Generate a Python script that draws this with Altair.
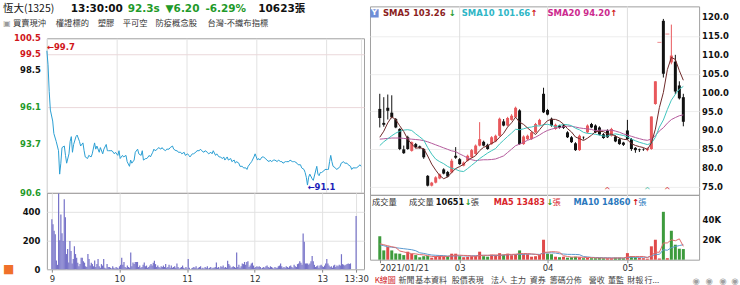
import altair as alt
import pandas as pd

# ---------------- header ----------------
stock_name = "恆大(1325)"
quote_time = "13:30:00"
quote_price = "92.3s"
quote_change = "▼6.20"
quote_pct = "-6.29%"
quote_volume = "10623張"
tags = ["買賣現沖", "權證標的", "塑膠", "平可空", "防疫概念股", "台灣-不織布指標"]

# ---------------- intraday ----------------
ref_price = 98.5
price_ticks = [90.6, 93.7, 96.1, 98.5, 99.5, 100.5]
hour_ticks = [0, 60, 120, 180, 240, 270]
hour_labels = ["9", "10", "11", "12", "13", "13:30"]
intra_min = [0, 1, 2, 3, 5, 6, 8, 9, 10, 11, 12, 13, 15, 16, 17, 19, 20, 21, 22, 23, 25, 26, 28, 29, 31, 32, 33, 35,
             36, 38, 39, 41, 42, 43, 45, 46, 48, 49, 51, 52, 53, 55, 56, 58, 59, 61, 62, 63, 65, 66, 68, 69, 71, 72,
             73, 75, 76, 78, 79, 81, 82, 83, 85, 86, 88, 89, 91, 92, 93, 95, 96, 98, 99, 100, 102, 103, 105, 106,
             108, 109, 111, 112, 113, 115, 116, 118, 119, 121, 122, 123, 125, 126, 128, 129, 131, 132, 133, 135,
             136, 138, 139, 141, 142, 143, 145, 146, 148, 149, 151, 152, 153, 155, 156, 158, 159, 161, 162, 163,
             165, 166, 168, 169, 171, 172, 173, 175, 176, 178, 179, 180, 181, 182, 183, 185, 186, 188, 189, 191,
             192, 193, 195, 196, 198, 199, 201, 202, 203, 205, 206, 208, 209, 211, 212, 213, 215, 216, 218, 219,
             221, 222, 223, 224, 225, 226, 228, 229, 231, 232, 233, 234, 235, 236, 238, 239, 241, 242, 243, 244,
             245, 246, 248, 249, 251, 252, 253, 255, 256, 258, 259, 261, 262, 263, 265, 266, 268, 269, 270]
intra_price = [99.7, 98.8, 97.1, 95.9, 95.2, 94.4, 93.9, 93.6, 93.3, 91.8, 92.5, 93.5, 93.6, 93.0, 92.5, 93.1, 93.9,
               94.2, 93.2, 93.7, 94.2, 94.3, 93.9, 93.6, 93.8, 93.3, 92.9, 92.8, 93.0, 92.9, 93.1, 93.8, 93.4, 93.6,
               93.2, 93.5, 93.1, 93.4, 93.7, 93.3, 93.3, 93.3, 93.3, 93.1, 93.2, 93.0, 93.3, 92.8, 93.0, 92.9, 93.0,
               92.6, 92.3, 92.7, 92.5, 92.7, 93.2, 93.4, 93.1, 93.0, 93.3, 92.7, 92.8, 92.8, 93.0, 92.9, 93.2, 93.4,
               93.3, 93.4, 93.5, 93.4, 93.5, 93.4, 93.3, 93.4, 93.4, 93.5, 93.6, 93.4, 93.3, 93.3, 93.2, 93.2, 93.1,
               93.2, 93.0, 93.1, 93.0, 92.9, 93.1, 93.1, 93.2, 93.3, 93.3, 93.4, 93.3, 93.2, 93.3, 93.2, 93.1, 93.2,
               93.1, 93.3, 93.0, 93.1, 92.9, 92.9, 92.8, 92.9, 92.7, 92.9, 92.7, 92.8, 92.6, 92.7, 92.5, 92.6, 92.5,
               92.3, 92.3, 92.2, 92.2, 92.1, 92.3, 92.5, 92.6, 92.9, 93.1, 92.9, 92.7, 92.8, 92.7, 92.9, 92.9, 92.8,
               92.7, 92.6, 92.7, 92.6, 92.7, 92.7, 92.6, 92.7, 92.6, 92.6, 92.5, 92.6, 92.6, 92.6, 92.7, 92.6, 92.6,
               92.6, 92.5, 92.4, 92.4, 92.2, 92.1, 91.9, 91.6, 91.1, 91.6, 91.8, 91.5, 91.4, 92.0, 92.3, 91.8, 91.7,
               91.9, 91.9, 92.0, 92.1, 92.1, 92.1, 92.6, 93.0, 92.6, 92.3, 92.2, 92.1, 92.2, 92.3, 92.5, 92.6, 92.5,
               92.5, 92.4, 92.3, 92.1, 92.2, 92.2, 92.2, 92.3, 92.4, 92.3]
ivol = [347, 312, 266, 243, 60, 30, 525, 200, 380, 250,
        195, 485, 360, 105, 140, 46, 195, 127, 40, 70,
        160, 105, 80, 45, 20, 35, 80, 80, 55, 45,
        20, 15, 105, 70, 25, 45, 35, 20, 60, 15,
        35, 70, 20, 10, 35, 25, 70, 10, 5, 35,
        15, 15, 10, 5, 20, 10, 5, 15, 10, 5,
        20, 30, 80, 30, 50, 15, 10, 25, 15, 10,
        115, 20, 46, 35, 50, 50, 50, 15, 25, 10,
        15, 30, 46, 20, 25, 10, 15, 25, 35, 25,
        45, 58, 35, 15, 25, 15, 10, 20, 15, 25,
        15, 35, 10, 15, 30, 10, 25, 10, 15, 20,
        10, 40, 15, 5, 10, 15, 25, 10, 5, 15,
        5, 70, 10, 0, 5, 10, 15, 10, 20, 5,
        10, 15, 20, 5, 10, 5, 15, 10, 20, 5,
        10, 15, 5, 10, 10, 15, 46, 10, 15, 5,
        20, 15, 25, 10, 15, 10, 58, 35, 25, 10,
        15, 20, 15, 10, 115, 15, 30, 10, 20, 40,
        35, 50, 30, 50, 55, 15, 25, 40, 45, 25,
        10, 15, 20, 15, 20, 15, 5, 10, 15, 10,
        20, 25, 15, 10, 20, 15, 10, 5, 15, 10,
        10, 20, 25, 40, 20, 10, 15, 10, 20, 15,
        10, 20, 25, 15, 10, 30, 20, 15, 35, 40,
        55, 45, 30, 247, 190, 40, 40, 40, 30, 40,
        55, 92, 55, 30, 15, 20, 25, 10, 25, 30,
        20, 15, 25, 40, 70, 40, 25, 15, 20, 10,
        25, 30, 15, 25, 20, 30, 25, 104, 35, 30,
        25, 30, 35, 40, 35, 40, 370]
ivol_min = list(range(266)) + [270]

# ---------------- daily K line ----------------
dates = ["01/21", "01/22", "01/25", "01/26", "01/27", "01/28", "01/29", "02/01", "02/02", "02/03", "02/04",
         "02/05", "02/17", "02/18", "02/19", "02/22", "02/23", "02/24", "02/25", "02/26", "03/02", "03/03",
         "03/04", "03/05", "03/08", "03/09", "03/10", "03/11", "03/12", "03/15", "03/16", "03/17", "03/18",
         "03/19", "03/22", "03/23", "03/24", "03/25", "03/26", "03/29", "03/30", "03/31", "04/01", "04/06",
         "04/07", "04/08", "04/09", "04/12", "04/13", "04/14", "04/15", "04/16", "04/19", "04/20", "04/21",
         "04/22", "04/23", "04/26", "04/27", "04/28", "04/29", "04/30", "05/03", "05/04", "05/05", "05/06",
         "05/07", "05/10", "05/11", "05/12", "05/13", "05/14", "05/17", "05/18", "05/19", "05/20", "05/21"]
opens = [95.7, 92.0, 96.0, 94.7, 93.0, 90.4, 85.0, 88.2, 84.6, 86.4, 85.8, 85.1, 78.0, 75.4, 76.2, 77.3, 79.7,
         79.0, 78.9, 83.3, 82.4, 80.7, 82.0, 82.9, 83.8, 86.0, 87.0, 86.2, 86.4, 87.1, 88.6, 92.4, 91.3, 92.8,
         93.5, 95.3, 86.4, 87.7, 87.7, 89.5, 91.5, 99.7, 95.4, 93.1, 90.4, 91.3, 91.3, 89.5, 88.2, 86.6, 84.8,
         88.3, 89.5, 91.7, 91.3, 90.8, 89.0, 90.0, 88.6, 88.4, 87.7, 86.8, 90.0, 87.7, 85.4, 85.0, 85.1, 84.8,
         85.1, 97.0, 113.3, 119.0, 115.5, 108.0, 108.2, 101.9, 98.8]
highs = [99.7, 98.8, 99.5, 99.3, 93.3, 90.6, 86.0, 88.6, 87.1, 86.7, 86.0, 85.3, 78.2, 76.4, 77.9, 78.6, 80.0,
         79.3, 82.5, 85.6, 82.7, 81.8, 83.6, 85.1, 86.3, 92.2, 87.3, 86.5, 88.5, 88.9, 93.4, 93.0, 93.6, 94.3,
         96.3, 95.6, 88.7, 88.9, 89.8, 92.0, 93.1, 101.3, 95.7, 93.4, 91.8, 91.5, 91.6, 89.8, 88.5, 86.9, 88.9,
         88.4, 91.6, 92.0, 91.6, 91.1, 89.3, 90.3, 90.7, 88.7, 88.0, 87.0, 92.8, 88.0, 85.6, 85.2, 85.3, 85.5,
         93.7, 103.0, 113.3, 119.5, 115.5, 118.0, 110.0, 103.0, 99.7]
lows = [90.8, 91.0, 92.9, 93.2, 90.6, 84.8, 83.8, 84.9, 84.4, 85.3, 85.2, 82.5, 75.2, 75.2, 76.0, 77.1, 78.4,
        77.6, 78.7, 82.5, 80.9, 80.5, 81.8, 82.7, 83.6, 85.8, 85.8, 84.9, 86.2, 86.9, 88.4, 91.1, 91.1, 92.6,
        93.3, 86.2, 86.2, 87.5, 87.5, 89.3, 91.3, 94.6, 94.0, 91.0, 90.2, 90.5, 90.4, 88.0, 86.7, 84.6, 84.6,
        87.6, 89.3, 90.6, 89.3, 88.7, 87.8, 88.0, 88.4, 86.9, 86.2, 85.9, 87.5, 84.6, 84.1, 84.3, 84.6, 84.5,
        84.9, 96.8, 113.3, 104.0, 115.5, 107.5, 99.6, 98.2, 91.1]
closes = [93.3, 91.5, 95.2, 93.5, 90.8, 85.1, 84.0, 85.1, 86.9, 85.6, 85.4, 82.9, 75.4, 76.2, 77.6, 78.4, 78.6,
          77.8, 82.0, 82.8, 81.1, 81.5, 83.3, 84.8, 86.0, 87.7, 86.0, 85.1, 88.2, 88.6, 93.1, 91.3, 93.3, 93.9,
          96.0, 86.4, 88.4, 88.6, 89.5, 91.7, 92.8, 94.8, 94.2, 91.3, 91.5, 90.7, 90.7, 88.2, 86.9, 84.8, 88.6,
          88.2, 91.3, 90.8, 89.5, 88.9, 88.0, 88.2, 90.4, 87.1, 86.4, 86.2, 87.7, 85.1, 84.8, 84.8, 85.0, 85.2,
          93.7, 103.0, 113.3, 105.0, 115.5, 109.8, 100.3, 98.5, 92.3]
vol_k = [23.5, 9.3, 12.7, 9.3, 6.3, 6.0, 4.6, 8.0, 5.7, 4.6, 2.4, 3.5, 3.8, 2.0, 3.5, 4.0, 3.5, 3.5, 6.0, 6.0,
         3.5, 2.5, 3.0, 3.5, 4.0, 8.0, 3.5, 3.0, 5.0, 4.5, 6.5, 5.0, 6.0, 4.5, 5.5, 9.3, 5.5, 5.5, 3.0, 3.5,
         5.0, 20.0, 6.0, 5.5, 3.0, 2.5, 3.0, 2.0, 2.5, 3.0, 2.5, 1.5, 2.0, 1.5, 1.5, 1.8, 1.5, 1.5, 1.5, 2.0,
         2.0, 1.5, 6.6, 3.5, 2.5, 2.0, 1.5, 1.0, 13.4, 20.0, 1.2, 48.0, 1.5, 29.0, 15.0, 11.0, 10.65]
# moving-average values before a full window is available
ma5_head = [88.2, 89.8, 92.0, 93.6]
ma10_head = [86.0, 87.0, 87.8, 88.6, 89.3, 89.8, 90.1, 90.2, 90.0]
ma20_head = [87.7, 87.8, 87.9, 88.0, 88.0, 88.0, 87.9, 87.8, 87.7, 87.6, 87.5, 87.3, 87.0, 86.6, 86.2, 85.8,
             85.4, 85.0, 84.6]
vma5_head = [16.0, 15.0, 14.0, 13.0]
vma10_head = [15.0, 14.0, 13.0, 12.5, 12.0, 11.5, 11.0, 10.5, 10.0]
k_ticks = [75, 80, 85, 90, 95, 100, 105, 110, 115, 120]
date_ticks = [0, 20, 42, 62]
date_labels = ["2021/01/21", "03", "04", "05"]
month_ticks = [20, 42, 62]
event_idx = [57, 67, 72]
event_dir = ["up", "down", "up"]
legend_sma = ["SMA5 103.26", "SMA10 101.66", "SMA20 94.20"]
legend_vol = ["成交量", "成交量", "10651", "MA5 13483", "MA10 14860"]
tabs = ["K線圖", "新聞", "基本資料", "股價表現", "法人", "主力", "資券", "籌碼分佈", "營收", "董監", "財報", "行..."]

# ---------------- styles ----------------
FONT = "DejaVu Sans, Noto Sans CJK TC"
CJK = "Noto Sans CJK TC, DejaVu Sans"
RED = "#d0161b"
GREEN = "#1f9a2a"
CANDLE_UP = "#e8585c"
CANDLE_DOWN = "#111111"
VOL_UP, VOL_DOWN = "#e04a4a", "#3d9b3d"
MA5C, MA10C, MA20C = "#6e2a2a", "#40c4bd", "#b45a9c"


def sma(vals, n, head):
    out = list(head)
    for k in range(n - 1, len(vals)):
        out.append(sum(vals[k - n + 1:k + 1]) / n)
    return out


def label_expr(vals, labels):
    expr = "''"
    for v, l in zip(reversed(vals), reversed(labels)):
        expr = f"datum.value == {v} ? '{l}' : ({expr})"
    return expr


def txt(s, x, y, color="#222", size=8.5, weight="normal", font=FONT, align="left"):
    return alt.Chart(pd.DataFrame({"t": [s]})).mark_text(
        align=align, baseline="middle", font=font, fontSize=size, fontWeight=weight, color=color
    ).encode(text="t:N", x=alt.value(x), y=alt.value(y))


# ================= LEFT COLUMN =================
LW = 318
hdr_layers = [
    txt(stock_name, -44, 8, "#111", 10.5, "normal", CJK),
    txt(quote_time, 24, 8, "#111", 10.5, "bold"),
    txt(quote_price, 81, 8, GREEN, 10.5, "bold"),
    txt(quote_change, 119, 8, GREEN, 10.5, "bold"),
    txt(quote_pct, 159, 8, GREEN, 10.5, "bold"),
    txt(quote_volume, 212, 8, "#111", 10.5, "bold"),
    txt("▣", -44, 23, "#9a9a9a", 8, "normal"),
]
tag_x = [-34, 9, 51, 76, 109, 161]
for t, xx in zip(tags, tag_x):
    hdr_layers.append(txt(t, xx, 23, "#333", 8.3, "normal", CJK))
header = alt.layer(*hdr_layers).properties(width=LW, height=37,
                                           view=alt.ViewBackground(stroke="transparent"))

xl = alt.Scale(domain=[0, 272.6], nice=False, zero=False)
yl = alt.Scale(domain=[90.6, 100.5], nice=False, zero=False)
intra = pd.DataFrame({"m": intra_min, "p": intra_price})
price_line = alt.Chart(intra).mark_line(color="#2b9fd3", strokeWidth=1).encode(
    x=alt.X("m:Q", scale=xl, axis=alt.Axis(values=hour_ticks, grid=True, gridColor="#e2e2e2", labels=False,
                                           ticks=False, domain=False, title=None)),
    y=alt.Y("p:Q", scale=yl, axis=alt.Axis(values=price_ticks, grid=True, gridColor="#ead8da", labels=False,
                                           ticks=False, domain=False, title=None)),
)
pl = pd.DataFrame({"v": price_ticks})
pl["lbl"] = pl["v"].map(lambda v: f"{v:.1f}")
pl["col"] = pl["v"].map(lambda v: RED if v > ref_price + 0.01 else ("#111111" if v > ref_price - 0.01 else GREEN))
price_labels = alt.Chart(pl).mark_text(align="right", baseline="middle", font=FONT, fontSize=8.5,
                                       fontWeight="bold").encode(
    y=alt.Y("v:Q", scale=yl), x=alt.value(-6), text="lbl:N", color=alt.Color("col:N", scale=None))
hi = pd.DataFrame({"m": [intra_min[intra_price.index(max(intra_price))]], "p": [max(intra_price)]})
lo = pd.DataFrame({"m": [intra_min[intra_price.index(min(intra_price))]], "p": [min(intra_price)]})
hi["t"] = hi["p"].map(lambda v: f"←{v:.1f}")
lo["t"] = lo["p"].map(lambda v: f"←{v:.1f}")
hi_txt = alt.Chart(hi).mark_text(align="left", baseline="middle", font=FONT, fontSize=8.5, fontWeight="bold",
                                 color=RED, dy=-4).encode(x=alt.X("m:Q", scale=xl),
                                                          y=alt.Y("p:Q", scale=yl), text="t:N")
lo_txt = alt.Chart(lo).mark_text(align="left", baseline="middle", font=FONT, fontSize=8.5, fontWeight="bold",
                                 color="#1c1cb8", dy=2).encode(x=alt.X("m:Q", scale=xl),
                                                                y=alt.Y("p:Q", scale=yl), text="t:N")
price_panel = alt.layer(price_line, price_labels, hi_txt, lo_txt).properties(width=LW, height=155)

iv = pd.DataFrame({"m": ivol_min, "v": ivol})
lvol_bars = alt.Chart(iv).mark_bar(size=1.2, color="#7672c8").encode(
    x=alt.X("m:Q", scale=xl, axis=alt.Axis(values=hour_ticks, labelExpr=label_expr(hour_ticks, hour_labels),
                                           grid=True, gridColor="#e2e2e2", tickSize=3, tickColor="#888",
                                           domain=False, labelPadding=2, labelFlush=False,
                                           labelFontSize=8.5, labelColor="#333", title=None)),
    y=alt.Y("v:Q", scale=alt.Scale(domain=[0, 530], nice=False),
            axis=alt.Axis(values=[0, 200, 400], grid=True, gridColor="#e2e2e2", ticks=False, domain=False,
                          labelFontWeight="bold", labelColor="#111", labelPadding=7, title=None)),
)
bell = txt("■", -44, 76, "#f0702a", 12, "normal")
lvol_panel = alt.layer(lvol_bars, bell).properties(width=LW, height=76.5)

left = alt.vconcat(header, price_panel, lvol_panel, spacing=0, bounds="flush")

# ================= RIGHT COLUMN =================
RW = 330
d = pd.DataFrame({"i": list(range(len(dates))), "date": dates, "o": opens, "h": highs, "l": lows, "c": closes,
                  "v": vol_k})
d["col"] = [CANDLE_UP if c >= o else CANDLE_DOWN for o, c in zip(opens, closes)]
d["vcol"] = [VOL_DOWN] + [VOL_UP if closes[k] >= closes[k - 1] else VOL_DOWN for k in range(1, len(closes))]
d["ma5"] = sma(closes, 5, ma5_head)
d["ma10"] = sma(closes, 10, ma10_head)
d["ma20"] = sma(closes, 20, ma20_head)
d["vma5"] = sma(vol_k, 5, vma5_head)
d["vma10"] = sma(vol_k, 10, vma10_head)

xr = alt.Scale(domain=[-1.2, 78.7], nice=False, zero=False)
yr = alt.Scale(domain=[72.97, 122.82], nice=False, zero=False)
yv = alt.Scale(domain=[0, 65], nice=False)

spacer = alt.Chart(pd.DataFrame({"t": [0]})).mark_rule(opacity=0).encode(
    x=alt.value(0), x2=alt.value(1), y=alt.value(2)).properties(
    width=RW, height=5, view=alt.ViewBackground(stroke="transparent"))

mgrid = alt.Chart(pd.DataFrame({"i": month_ticks})).mark_rule(color="#dedede", strokeWidth=1).encode(
    x=alt.X("i:Q", scale=xr, axis=None))
wicks = alt.Chart(d).mark_rule(strokeWidth=1).encode(
    x=alt.X("i:Q", scale=xr, axis=None),
    y=alt.Y("l:Q", scale=yr, axis=alt.Axis(orient="right", values=k_ticks, grid=True, gridColor="#ededed",
                                           labels=False, ticks=False, domain=False, title=None)),
    y2="h:Q", color=alt.Color("col:N", scale=None))
kl = pd.DataFrame({"v": k_ticks})
kl["lbl"] = kl["v"].map(lambda v: f"{v:.1f}")
k_labels = alt.Chart(kl).mark_text(align="left", baseline="middle", font=FONT, fontSize=8.5, fontWeight="bold",
                                   color="#111").encode(y=alt.Y("v:Q", scale=yr), x=alt.value(RW + 3),
                                                        text="lbl:N")
bodies = alt.Chart(d).mark_bar(size=3).encode(
    x=alt.X("i:Q", scale=xr, axis=None), y=alt.Y("o:Q", scale=yr), y2="c:Q",
    color=alt.Color("col:N", scale=None))
doji = alt.Chart(d[d["o"] == d["c"]]).mark_tick(orient="horizontal", size=4, thickness=1).encode(
    x=alt.X("i:Q", scale=xr, axis=None), y=alt.Y("c:Q", scale=yr),
    color=alt.Color("col:N", scale=None))
ma_lines = [alt.Chart(d).mark_line(color=col, strokeWidth=1).encode(
    x=alt.X("i:Q", scale=xr, axis=None), y=alt.Y(f"{f}:Q", scale=yr))
    for f, col in [("ma20", MA20C), ("ma10", MA10C), ("ma5", MA5C)]]
ev = pd.DataFrame({"i": event_idx, "dir": event_dir})
ev["col"] = ev["dir"].map({"up": RED, "down": "#3cb8a0"})
events = alt.Chart(ev).mark_text(text="^", fontSize=8, font=FONT, baseline="middle").encode(
    x=alt.X("i:Q", scale=xr, axis=None), y=alt.value(185), color=alt.Color("col:N", scale=None))
legend_layers = [
    alt.Chart(pd.DataFrame({"t": ["Y"]})).mark_square(size=70, color="#6f8fd8", opacity=1).encode(
        x=alt.value(4.5), y=alt.value(7)),
    txt("Y", 4.5, 7, "#fff", 8, "bold", FONT, "center"),
    txt(legend_sma[0], 13, 7, "#8b1e1e", 8.5, "bold"),
    txt("↓", 79, 7, GREEN, 8.5, "bold"),
    txt(legend_sma[1], 92, 7, "#2fb6c6", 8.5, "bold"),
    txt("↑", 161, 7, RED, 8.5, "bold"),
    txt(legend_sma[2], 178, 7, "#cc2a8e", 8.5, "bold"),
    txt("↑", 241, 7, RED, 8.5, "bold"),
]
candle_panel = alt.layer(mgrid, wicks, bodies, doji, *ma_lines, events, k_labels, *legend_layers).properties(
    width=RW, height=189)

vgrid = alt.Chart(pd.DataFrame({"i": month_ticks})).mark_rule(color="#dedede", strokeWidth=1).encode(
    x=alt.X("i:Q", scale=xr, axis=alt.Axis(values=date_ticks, labelExpr=label_expr(date_ticks, date_labels),
                                           labelAlign={"condition": {"test": "datum.value == 0", "value": "left"},
                                                       "value": "center"},
                                           grid=False, tickSize=3, tickColor="#888", domain=False,
                                           labelPadding=1, labelFlush=False,
                                           labelColor="#333", title=None)))
rvol_bars = alt.Chart(d).mark_bar(size=3).encode(
    x=alt.X("i:Q", scale=xr),
    y=alt.Y("v:Q", scale=yv,
            axis=alt.Axis(orient="right", values=[20, 40], labelExpr="datum.value + 'K'", grid=False,
                          ticks=False, domain=False, labelFontWeight="bold", labelColor="#111", labelPadding=3,
                          title=None)),
    color=alt.Color("vcol:N", scale=None))
vma_lines = [alt.Chart(d).mark_line(color=col, strokeWidth=1).encode(
    x=alt.X("i:Q", scale=xr), y=alt.Y(f"{f}:Q", scale=yv))
    for f, col in [("vma10", "#5a9ad0"), ("vma5", "#e06a6a")]]
vol_hdr = [
    txt(legend_vol[0], 2, 8, "#333", 8.3, "normal", CJK),
    txt(legend_vol[1], 39, 8, "#333", 8.3, "normal", CJK),
    txt(legend_vol[2], 66, 8, "#111", 8.2, "bold", FONT),
    txt("↓", 95, 8, GREEN, 8.2, "bold"),
    txt("張", 101, 8, "#333", 8.3, "normal", CJK),
    txt(legend_vol[3], 124, 8, "#d9262b", 8.2, "bold", FONT),
    txt("↓", 177, 8, GREEN, 8.2, "bold"),
    txt("張", 183, 8, "#d9262b", 8.3, "normal", CJK),
    txt(legend_vol[4], 204, 8, "#2a78bd", 8.2, "bold", FONT),
    txt("↑", 263, 8, RED, 8.2, "bold"),
    txt("張", 269, 8, "#2a78bd", 8.3, "normal", CJK),
]
tab_x = [4.7, 28.7, 45.3, 82, 121.3, 140.3, 160.3, 180.3, 219.3, 238.7, 258, 275.3]
for t, xx in zip(tabs, tab_x):
    vol_hdr.append(txt(t, xx, 86, RED if t == tabs[0] else "#444", 8, "normal", CJK))
for xx in [327, 340, 354, 366]:
    vol_hdr.append(txt("◉", xx, 86, "#a0a0a0", 8.5, "normal", FONT, "center"))
rvol_panel = alt.layer(vgrid, rvol_bars, *vma_lines, *vol_hdr).properties(width=RW, height=65)

right = alt.vconcat(spacer, candle_panel, rvol_panel, spacing=0, bounds="flush")

chart = alt.hconcat(left, right, spacing=0, bounds="full").properties(
    padding={"left": 2, "top": 0, "right": 0, "bottom": 0},
    background="white",
).configure_view(stroke="#a0a0a0", strokeWidth=1).configure_axis(
    labelFont="DejaVu Sans", labelFontSize=8.5, labelOverlap=False, labelBound=False)

chart.save("out.html", embed_options={"renderer": "svg", "actions": False})
